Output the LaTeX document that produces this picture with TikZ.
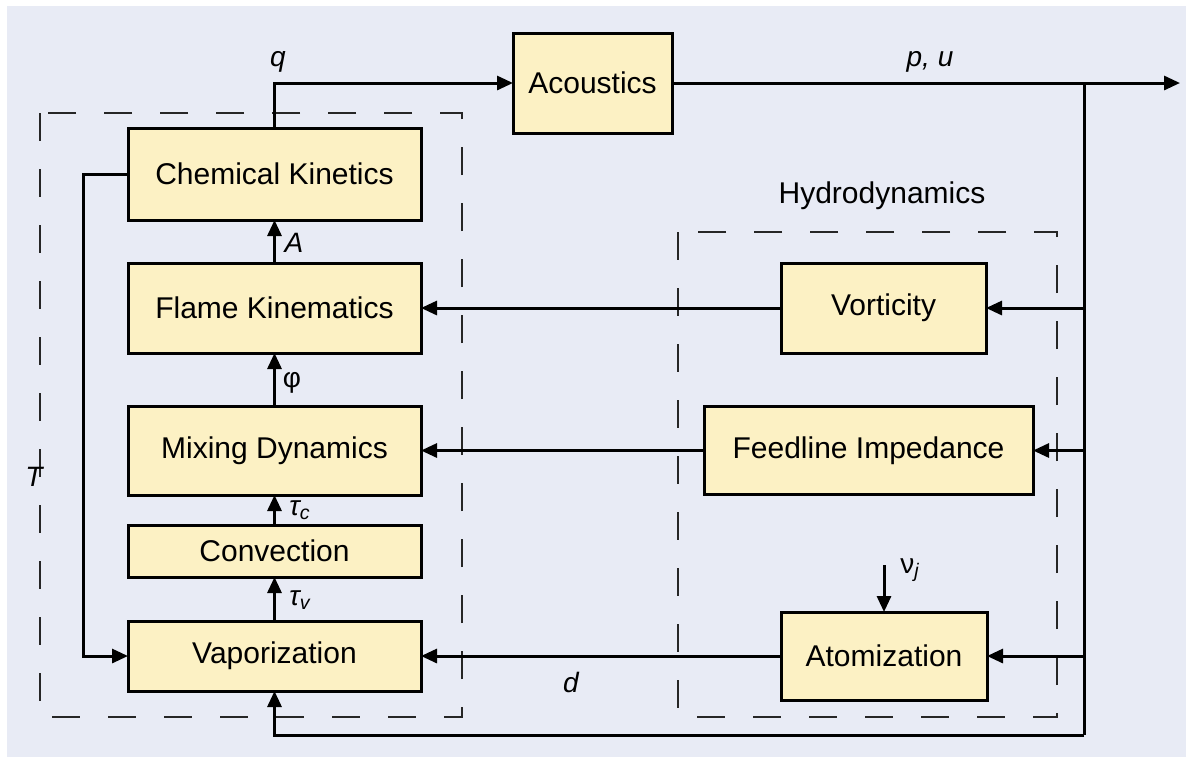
\documentclass[tikz,border=0pt]{standalone}
\usepackage{fontspec}
\setmainfont{Liberation Sans}
\usetikzlibrary{positioning,arrows.meta}
\definecolor{bgblue}{HTML}{E8EBF5}
\definecolor{boxfill}{HTML}{FCF1C4}

\begin{document}
\begin{tikzpicture}[x=0.5pt,y=-0.5pt,>={Triangle[length=8pt,width=7pt]},
  font=\fontsize{15}{18}\selectfont,
  b/.style={draw,line width=1.5pt,fill=boxfill,inner sep=0pt,outer sep=0pt,minimum width=146.5pt},
  lbl/.style={inner sep=0pt,font=\fontsize{14}{16}\selectfont\itshape},
  conn/.style={line width=1.5pt},
  grp/.style={draw=black!85,line width=1.2pt,dash pattern=on 14pt off 14pt}]
  \path[use as bounding box,fill=white] (0,0) rectangle (1186,757);
  \fill[bgblue] (7,6) rectangle (1186,757);
  \draw[grp] (40,113) rectangle (462,717);
  \draw[grp] (678,232) rectangle (1057,717);
  \node[b,minimum height=46pt] (ck) at (274.5,174) {Chemical Kinetics};
  \node[b,minimum height=45pt,below=21.5pt of ck] (fk) {Flame Kinematics};
  \node[b,minimum height=44.5pt,below=26.5pt of fk] (md) {Mixing Dynamics};
  \node[b,minimum height=26pt,below=15pt of md] (cv) {Convection};
  \node[b,minimum height=35pt,below=22pt of cv] (vp) {Vaporization};
  \node[b,minimum width=79.5pt,minimum height=50pt] (ac) at (592.5,83) {Acoustics};
  \node[b,minimum width=102.5pt,minimum height=45pt,right=180pt of fk] (vo) {Vorticity};
  \node[b,minimum width=164.5pt,minimum height=44pt,right=141.5pt of md] (fi) {Feedline Impedance};
  \node[b,minimum width=103pt,minimum height=44pt,right=180pt of vp] (at) {Atomization};
  \node[inner sep=0pt] (hy) at (882,196) {Hydrodynamics};
  \coordinate (jn) at (1084,83);
  \coordinate (out) at (1180,83);
  \coordinate (bt) at (1084,735);
  \coordinate (nu) at (884,565);
  \draw[conn,->] (ck.north) |- (ac.west);
  \draw[conn,->] (ac.east) -- (out);
  \draw[conn] (jn) -- (bt);
  \draw[conn,->] (bt) -| (vp.south);
  \foreach \a/\bb in {fk/ck,md/fk,cv/md,vp/cv}{\draw[conn,->] (\a) -- (\bb);}
  \foreach \a in {vo,fi,at}{\draw[conn,->] (\a.east -| jn) -- (\a.east);}
  \foreach \a/\bb in {vo/fk,fi/md,at/vp}{\draw[conn,->] (\a.west) -- (\bb.east);}
  \draw[conn,->] (ck.west) -- ++(-45,0) |- (vp.west);
  \draw[conn,->] (nu) -- (at.north);
  \node[lbl] (lq) at (278,62) {q};
  \node[lbl] (lpu) at (930,62) {p, u};
  \node[lbl] (la) at (294,243) {A};
  \node[lbl,font=\fontsize{14}{16}\selectfont] (lphi) at (292,383) {φ};
  \node[lbl] (ltc) at (300,510) {τ\textsubscript{c}};
  \node[lbl] (ltv) at (300,600) {τ\textsubscript{v}};
  \node[lbl] (ld) at (571,682) {d};
  \node[lbl] (lnu) at (910,570) {\upshape ν\textsubscript{\itshape j}};
  \node[lbl] (lt) at (34,477) {T};
\end{tikzpicture}
\end{document}
